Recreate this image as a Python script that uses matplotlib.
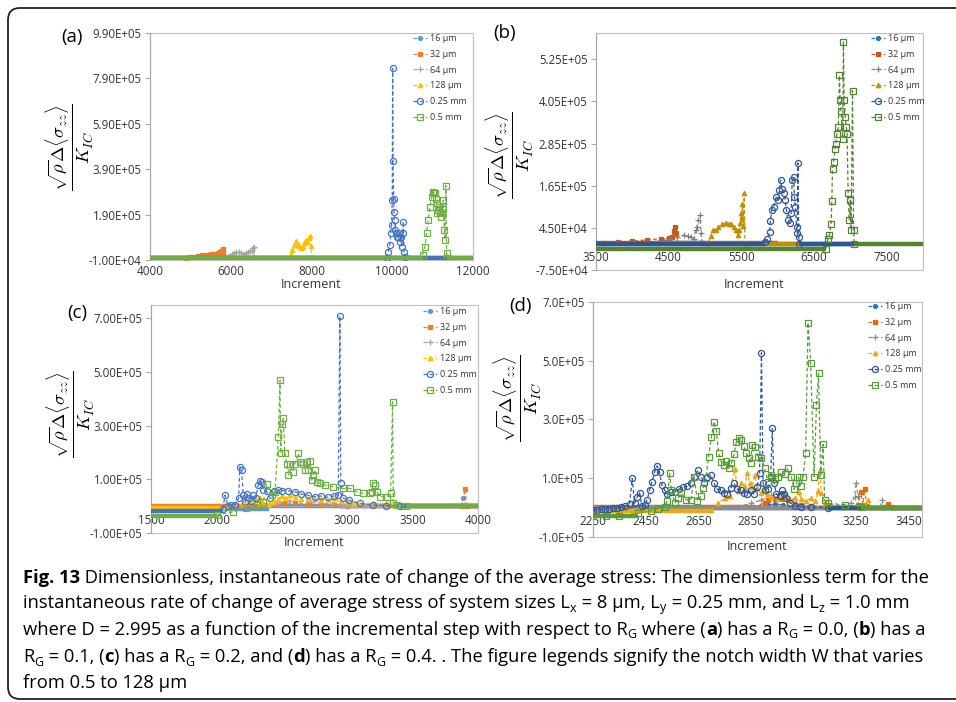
import matplotlib
matplotlib.use('Agg')
import matplotlib.pyplot as plt
from matplotlib.patches import FancyBboxPatch, Rectangle
from matplotlib.ticker import FuncFormatter

plt.rcParams['font.family'] = ['Open Sans', 'DejaVu Sans']

W, H = 956, 702
LABELS = ['16 µm', '32 µm', '64 µm', '128 µm', '0.25 mm', '0.5 mm']

######
#   Data, y values in units of 1e3
######
# (a) R_G = 0.0
A16_X, A16_Y, A16_BASE = [], [], [(4000, 11500, -2)]
A32_X = [4900, 5000, 5100, 5200, 5300, 5400, 5500, 5560, 5620, 5680, 5730, 5770, 5800, 5815, 5830]
A32_Y = [0, 3, 5, 8, 10, 13, 15, 17, 14, 19, 24, 30, 37, 20, 2]
A32_BASE = [(4000, 10500, 0)]
A64_X = [5880, 5950, 6020, 6080, 6140, 6200, 6260, 6320, 6380, 6430, 6480, 6520, 6550, 6565, 6580]
A64_Y = [1, 8, 15, 21, 25, 26, 20, 16, 19, 26, 30, 28, 44, 49, 3]
A64_BASE = [(5750, 6600, 0)]
A128_X = [7480, 7520, 7570, 7620, 7660, 7700, 7740, 7780, 7820, 7860, 7900, 7940, 7970, 7990, 8005]
A128_Y = [10, 35, 55, 72, 62, 50, 43, 48, 65, 80, 70, 86, 96, 52, 3]
A128_BASE = [(7400, 8100, 0)]
A025_X = [9860, 9900, 9940, 9960, 9985, 10000, 10010, 10020, 10035, 10045, 10060, 10080, 10100,
          10125, 10150, 10175, 10195, 10215, 10235, 10255, 10275, 10290, 10315]
A025_Y = [0, 27, 56, 107, 144, 255, 834, 427, 260, 200, 165, 122, 107, 92, 90, 107, 71, 90, 49,
          107, 159, 27, 2]
A025_BASE = [(4000, 12000, -2)]
A05_X = [10750, 10810, 10850, 10890, 10935, 10975, 11015, 11040, 11060, 11080, 11100, 11115, 11140,
         11165, 11185, 11200, 11230, 11250, 11265, 11290, 11306, 11330, 11348, 11365]
A05_Y = [12, 49, 107, 166, 225, 269, 291, 285, 284, 260, 240, 196, 210, 225, 200, 181, 196, 215,
         254, 122, 78, 318, 19, 0]
A05_BASE = [(4000, 10760, -3), (11360, 12000, -3)]

# (b) R_G = 0.1
B16_X, B16_Y, B16_BASE = [], [], [(3500, 7050, -2)]
B32_X = [3600, 3800, 4000, 4200, 4400, 4500, 4550, 4570, 4585, 4600, 4620]
B32_Y = [1, 4, 7, 11, 14, 15, 20, 35, 48, 30, 2]
B32_BASE = [(3500, 6000, 1)]
B64_X = [4350, 4440, 4530, 4620, 4710, 4770, 4810, 4850, 4870, 4890, 4910, 4935, 4945, 4960]
B64_Y = [2, 8, 14, 18, 24, 21, 18, 12, 39, 48, 67, 81, 29, 1]
B64_BASE = [(4300, 5000, 1)]
B128_X = [5040, 5080, 5110, 5150, 5180, 5230, 5290, 5330, 5360, 5400, 5430, 5450, 5470, 5485,
          5495, 5505, 5515, 5525, 5540, 5550]
B128_Y = [3, 22, 39, 40, 48, 55, 59, 57, 56, 47, 39, 24, 39, 60, 86, 70, 114, 50, 143, 3]
B128_BASE = [(5000, 6300, 0)]
B025_X = [5820, 5855, 5890, 5900, 5920, 5945, 5980, 6000, 6025, 6040, 6060, 6085, 6105, 6120,
          6140, 6165, 6185, 6200, 6220, 6230, 6245, 6260, 6270, 6280, 6290, 6300]
B025_Y = [5, 12, 34, 65, 97, 105, 133, 124, 152, 181, 157, 143, 124, 96, 67, 58, 86, 181, 190,
          133, 105, 48, 29, 230, 19, 0]
B025_BASE = [(3500, 5820, -2), (6300, 7050, -2)]
B05_X = [6665, 6690, 6710, 6735, 6745, 6755, 6770, 6790, 6800, 6815, 6835, 6850, 6860, 6870,
         6895, 6905, 6915, 6930, 6945, 6955, 6970, 6985, 7000, 7010, 7030, 7045, 7055]
B05_Y = [-14, 12, 24, 55, 121, 214, 233, 271, 283, 313, 332, 479, 408, 379, 299, 574, 408, 360,
         332, 313, 143, 67, 124, 39, 436, 39, 0]
B05_BASE = [(3500, 6670, -14), (7055, 8000, 0)]

# (c) R_G = 0.2
C16_X = [3870, 3888, 3900]
C16_Y = [0, 29, 0]
C16_BASE = [(1500, 2400, -12), (2400, 4000, 0)]
C32_X = [2300, 2380, 2450, 2520, 2600, 2700, 2800, 2900, 3000, 3880, 3900, 3915]
C32_Y = [0, 5, 8, 12, 10, 8, 6, 4, 0, 0, 64, 0]
C32_BASE = [(1500, 2300, 0), (3000, 4000, 0)]
C64_X = [2400, 2480, 2560, 2640, 2720, 2800, 2880, 2960]
C64_Y = [5, 15, 20, 18, 15, 12, 8, 2]
C64_BASE = [(2960, 3400, 0)]
C128_X = [2130, 2200, 2260, 2300, 2330, 2360, 2400, 2440, 2470, 2500, 2530, 2560, 2600, 2650,
          2700, 2750, 2800, 2850, 2900, 2950, 3000, 3050, 3100, 3200, 3300, 3400]
C128_Y = [0, 8, 15, 22, 30, 12, 8, 15, 25, 38, 30, 42, 35, 28, 32, 25, 28, 22, 25, 18, 20, 12, 8,
          12, 10, 3]
C128_BASE = [(1500, 2130, -8), (3400, 4000, 0)]
C025_X = [2050, 2066, 2090, 2110, 2140, 2170, 2180, 2193, 2205, 2220, 2235, 2250, 2265, 2280,
          2300, 2320, 2333, 2345, 2360, 2384, 2410, 2442, 2468, 2500, 2550, 2600, 2650, 2700,
          2750, 2800, 2850, 2900, 2932, 2944, 2951, 2970, 3010, 3100, 3200, 3300, 3400]
C025_Y = [-10, 41, 0, 3, 5, 30, 147, 135, 40, 15, 45, 30, 20, 40, 30, 79, 94, 90, 60, 55, 30, 55,
          60, 58, 57, 54, 45, 41, 35, 38, 33, 38, 40, 709, 85, 30, 23, 10, 4, 2, 0]
C025_BASE = [(1500, 2050, -18), (3400, 4000, 0)]
C05_X = [2002, 2129, 2230, 2308, 2359, 2384, 2422, 2448, 2473, 2486, 2491, 2504, 2511, 2524,
         2537, 2550, 2562, 2583, 2600, 2626, 2639, 2664, 2677, 2690, 2702, 2715, 2728, 2740,
         2753, 2766, 2792, 2830, 2894, 2970, 3021, 3072, 3123, 3174, 3187, 3194, 3212, 3225,
         3250, 3301, 3332, 3347, 3352, 3378, 3450]
C05_Y = [-33, -21, -8, 4, 17, 81, 41, 54, 259, 470, 197, 308, 327, 197, 159, 116, 159, 128, 159,
         197, 166, 159, 135, 166, 135, 168, 97, 116, 135, 91, 85, 79, 72, 66, 66, 54, 48, 48, 54,
         85, 79, 54, 35, 35, 48, 389, 10, 4, 0]
C05_BASE = [(1500, 2002, -38), (3450, 4000, 0)]

# (d) R_G = 0.4
D16_X = [2880, 2915, 2940, 2970, 2990]
D16_Y = [2, 9, 12, 10, 2]
D16_BASE = [(2250, 3500, 0)]
D32_X = [2860, 2902, 2915, 2940, 2965, 2990, 3016, 3040, 3080, 3150, 3240, 3257, 3267, 3275,
         3282, 3290, 3350, 3371, 3385]
D32_Y = [3, 15, 26, 28, 30, 26, 12, 8, 5, 4, 3, 9, 54, 10, 62, 5, 3, 14, 2]
D32_BASE = [(2250, 2860, 3), (3385, 3500, 0)]
D64_X = [2800, 2852, 2890, 2928, 2953, 2978, 3000, 3020, 3050, 3150, 3232, 3244, 3250, 3256,
         3262, 3340, 3349, 3356]
D64_Y = [2, 15, 26, 43, 46, 50, 30, 12, 3, 2, 15, 37, 85, 40, 5, 2, 26, 2]
D64_BASE = [(2250, 3500, 0)]
D128_X = [2700, 2725, 2750, 2769, 2788, 2801, 2814, 2826, 2836, 2845, 2854, 2864, 2874, 2887,
          2900, 2912, 2928, 2953, 2978, 2997, 3016, 3031, 3041, 3060, 3080, 3095, 3105, 3111,
          3118, 3130, 3156, 3200, 3282, 3295, 3305]
D128_Y = [-8, 15, 32, 40, 130, 55, 85, 70, 119, 83, 70, 110, 66, 49, 60, 46, 37, 28, 40, 26, 32,
          54, 28, 24, 32, 22, 57, 128, 49, 15, 6, 3, 9, 26, 2]
D128_BASE = [(2250, 2700, -10), (3305, 3500, 0)]
D025_X = [2250, 2265, 2280, 2295, 2310, 2325, 2340, 2355, 2370, 2389, 2399, 2408, 2418, 2427,
          2436, 2446, 2456, 2465, 2474, 2484, 2494, 2503, 2512, 2522, 2532, 2545, 2560, 2575,
          2592, 2608, 2621, 2634, 2649, 2660, 2672, 2684, 2697, 2710, 2722, 2735, 2748, 2760,
          2773, 2786, 2798, 2811, 2824, 2836, 2849, 2862, 2874, 2883, 2890, 2896, 2905, 2915,
          2925, 2931, 2938, 2947, 2959, 2968, 2977, 2985, 2997, 3016, 3041, 3080, 3143]
D025_Y = [-8, -7, -6, -5, -3, -2, 0, 2, 4, 12, 100, 15, 37, 51, 5, 10, 27, 60, 88, 122, 142, 120,
          77, 60, 46, 53, 54, 62, 69, 73, 85, 105, 128, 105, 85, 105, 111, 83, 62, 60, 51, 47,
          66, 83, 63, 60, 50, 46, 60, 46, 71, 117, 527, 83, 60, 62, 105, 270, 83, 46, 40, 60,
          46, 32, 17, 6, 3, 1, 0]
D025_BASE = [(3143, 3500, 0)]
D05_X = [2250, 2300, 2350, 2421, 2472, 2497, 2522, 2532, 2541, 2548, 2560, 2573, 2586, 2603,
         2622, 2634, 2647, 2660, 2669, 2679, 2689, 2700, 2710, 2719, 2727, 2738, 2748, 2757,
         2765, 2776, 2786, 2795, 2803, 2814, 2822, 2833, 2841, 2849, 2855, 2864, 2877, 2890,
         2902, 2915, 2928, 2940, 2953, 2966, 2978, 2991, 3004, 3014, 3023, 3031, 3039, 3048,
         3058, 3067, 3077, 3090, 3099, 3107, 3115, 3124, 3130, 3143, 3206, 3270]
D05_Y = [-28, -28, -27, -19, -10, -3, 3, 24, 117, 60, 15, 32, 49, 27, 25, 105, 22, 40, 66, 100,
         173, 242, 293, 262, 185, 156, 145, 160, 134, 151, 183, 225, 236, 230, 210, 185, 168,
         153, 213, 207, 173, 168, 134, 88, 111, 96, 105, 122, 114, 134, 105, 62, 83, 103, 74,
         103, 187, 630, 493, 105, 349, 457, 111, 215, 26, 15, 9, 3]
D05_BASE = [(2250, 2421, -28), (3270, 3500, 0)]

######
#   Styles
######
MARKERS = [('o', 2.8, True), ('s', 3.0, True), ('+', 3.8, True), ('^', 3.2, True),
           ('o', 4.4, False), ('s', 4.4, False)]
COL_LIGHT = ['#5B9BD5', '#ED7D31', '#A5A5A5', '#FFC000', '#4472C4', '#70AD47']
COL_DARK = ['#2E75B6', '#C55A11', '#7F7F7F', '#BF9000', '#2F5597', '#548235']
COL_D = ['#2E75B6', '#E36C09', '#8C8C8C', '#EDA812', '#2F5597', '#5A9A3A']

YLABEL = r'$\frac{\sqrt{\rho}\Delta\langle\sigma_{zz}\rangle}{K_{IC}}$'
GREY_TXT = '#333333'

fig = plt.figure(figsize=(W / 100, H / 100), dpi=100)
bg = fig.add_axes([0, 0, 1, 1])
bg.set_xlim(0, W)
bg.set_ylim(H, 0)
bg.axis('off')
bg.add_patch(FancyBboxPatch((8, 8), 1000, 691, boxstyle='round,pad=0,rounding_size=12',
                            fill=False, ec='#222222', lw=1.3))


def draw_panel(box, series, colors, xlim, xticks, ylim, yticks, fmt, legend_at):
    l, t, r, b = box
    ax = fig.add_axes([l / W, 1 - b / H, (r - l) / W, (b - t) / H])
    ax.set_facecolor('none')
    for i, ((xs, ys, base), col) in enumerate(zip(series, colors)):
        z = 2 + i
        for x0, x1, yb in base:
            ax.plot([x0, x1], [yb * 1e3, yb * 1e3], color=col, lw=3.2,
                    solid_capstyle='butt', zorder=z)
        mk, ms, filled = MARKERS[i]
        ax.plot(xs, [v * 1e3 for v in ys], ls=(0, (3, 2)), lw=0.9, color=col,
                marker=mk, ms=ms, mfc=col if filled else 'none', mec=col, mew=0.9,
                label=LABELS[i], zorder=z + 0.5)
    ax.set_xlim(*xlim)
    ax.set_ylim(*ylim)
    ax.set_xticks(xticks)
    ax.set_yticks(yticks)
    ax.yaxis.set_major_formatter(FuncFormatter(lambda v, p: fmt.format(v)))
    for s in ['top', 'right']:
        ax.spines[s].set_visible(False)
    ax.spines['bottom'].set_position(('data', 0))
    ax.spines['bottom'].set_color('#A6A6A6')
    ax.spines['left'].set_color('#A6A6A6')
    ax.add_patch(Rectangle((0, 0), 1, 1, transform=ax.transAxes, fill=False,
                           ec='#BFBFBF', lw=0.8, clip_on=False, zorder=0.5))
    ax.tick_params(axis='x', length=0, pad=5.5, labelsize=8.4, labelcolor=GREY_TXT)
    ax.tick_params(axis='y', length=3.5, width=0.8, color='#A6A6A6', pad=2.5,
                   labelsize=8.3, labelcolor=GREY_TXT)
    lx, ly = legend_at
    ax.legend(loc='upper left', bbox_to_anchor=(lx / W, 1 - ly / H),
              bbox_transform=fig.transFigure, frameon=False, fontsize=6.5,
              handlelength=1.6, handletextpad=0.3, labelspacing=0.75,
              borderpad=0, borderaxespad=0, labelcolor=GREY_TXT)
    return ax


PANELS = [
    ((150, 33, 473, 260),
     [(A16_X, A16_Y, A16_BASE), (A32_X, A32_Y, A32_BASE), (A64_X, A64_Y, A64_BASE),
      (A128_X, A128_Y, A128_BASE), (A025_X, A025_Y, A025_BASE), (A05_X, A05_Y, A05_BASE)],
     COL_LIGHT, (4000, 12000), range(4000, 12001, 2000), (-1e4, 9.9e5),
     [-1e4, 1.9e5, 3.9e5, 5.9e5, 7.9e5, 9.9e5], '{:.2E}', (413, 34),
     '(a)', (72, 37), (69, 147), (311, 284)),
    ((596, 33, 923, 270),
     [(B16_X, B16_Y, B16_BASE), (B32_X, B32_Y, B32_BASE), (B64_X, B64_Y, B64_BASE),
      (B128_X, B128_Y, B128_BASE), (B025_X, B025_Y, B025_BASE), (B05_X, B05_Y, B05_BASE)],
     COL_DARK, (3500, 8000), range(3500, 7501, 1000), (-7.5e4, 6.0e5),
     [-7.5e4, 4.5e4, 1.65e5, 2.85e5, 4.05e5, 5.25e5], '{:.2E}', (871, 34),
     '(b)', (505, 33), (509, 155), (754, 285)),
    ((151, 305, 478, 533),
     [(C16_X, C16_Y, C16_BASE), (C32_X, C32_Y, C32_BASE), (C64_X, C64_Y, C64_BASE),
      (C128_X, C128_Y, C128_BASE), (C025_X, C025_Y, C025_BASE), (C05_X, C05_Y, C05_BASE)],
     COL_LIGHT, (1500, 4000), range(1500, 4001, 500), (-1e5, 7.5e5),
     [-1e5, 1e5, 3e5, 5e5, 7e5], '{:.2E}', (423, 307),
     '(c)', (77, 313), (70, 414), (314, 543)),
    ((593, 302, 922, 537),
     [(D16_X, D16_Y, D16_BASE), (D32_X, D32_Y, D32_BASE), (D64_X, D64_Y, D64_BASE),
      (D128_X, D128_Y, D128_BASE), (D025_X, D025_Y, D025_BASE), (D05_X, D05_Y, D05_BASE)],
     COL_D, (2250, 3500), range(2250, 3451, 200), (-1e5, 7e5),
     [-1e5, 1e5, 3e5, 5e5, 7e5], '{:.1E}', (868, 302),
     '(d)', (521, 306), (517, 398), (757, 547)),
]

for (box, series, cols, xlim, xt, ylim, yt, fmt, leg, tag, tag_at, yl_at, xl_at) in PANELS:
    draw_panel(box, series, cols, xlim, list(xt), ylim, yt, fmt, leg)
    bg.text(*tag_at, tag, fontsize=13.5, ha='center', va='center')
    bg.text(*yl_at, YLABEL, fontsize=19, math_fontfamily='cm', rotation=90,
            ha='center', va='center')
    bg.text(*xl_at, 'Increment', fontsize=9, color=GREY_TXT, ha='center', va='center')

######
#   Caption: runs of (text, weight, subscript)
######
N, B = 'normal', 'bold'
CAPTION = [
    [('Fig. 13', B, 0),
     (' Dimensionless, instantaneous rate of change of the average stress: The dimensionless term for the', N, 0)],
    [('instantaneous rate of change of average stress of system sizes L', N, 0), ('x', N, 1),
     (' = 8 µm, L', N, 0), ('y', N, 1), (' = 0.25 mm, and L', N, 0), ('z', N, 1), (' = 1.0 mm', N, 0)],
    [('where D = 2.995 as a function of the incremental step with respect to R', N, 0), ('G', N, 1),
     (' where (', N, 0), ('a', B, 0), (') has a R', N, 0), ('G', N, 1), (' = 0.0, (', N, 0),
     ('b', B, 0), (') has a', N, 0)],
    [('R', N, 0), ('G', N, 1), (' = 0.1, (', N, 0), ('c', B, 0), (') has a R', N, 0), ('G', N, 1),
     (' = 0.2, and (', N, 0), ('d', B, 0), (') has a R', N, 0), ('G', N, 1),
     (' = 0.4. . The figure legends signify the notch width W that varies', N, 0)],
    [('from 0.5 to 128 µm', N, 0)],
]
CAP_BASELINES = [583, 608, 635, 662, 688]
CAP_SIZE = 13.2

renderer = fig.canvas.get_renderer()
for runs, yb in zip(CAPTION, CAP_BASELINES):
    x = 23
    for s, w, sub in runs:
        t = bg.text(x, yb + (3.5 if sub else 0), s, fontsize=CAP_SIZE * (0.68 if sub else 1),
                    fontweight=w, ha='left', va='baseline')
        x += t.get_window_extent(renderer=renderer).width + (0.5 if sub else 0)

fig.savefig('out.png', dpi=100)
